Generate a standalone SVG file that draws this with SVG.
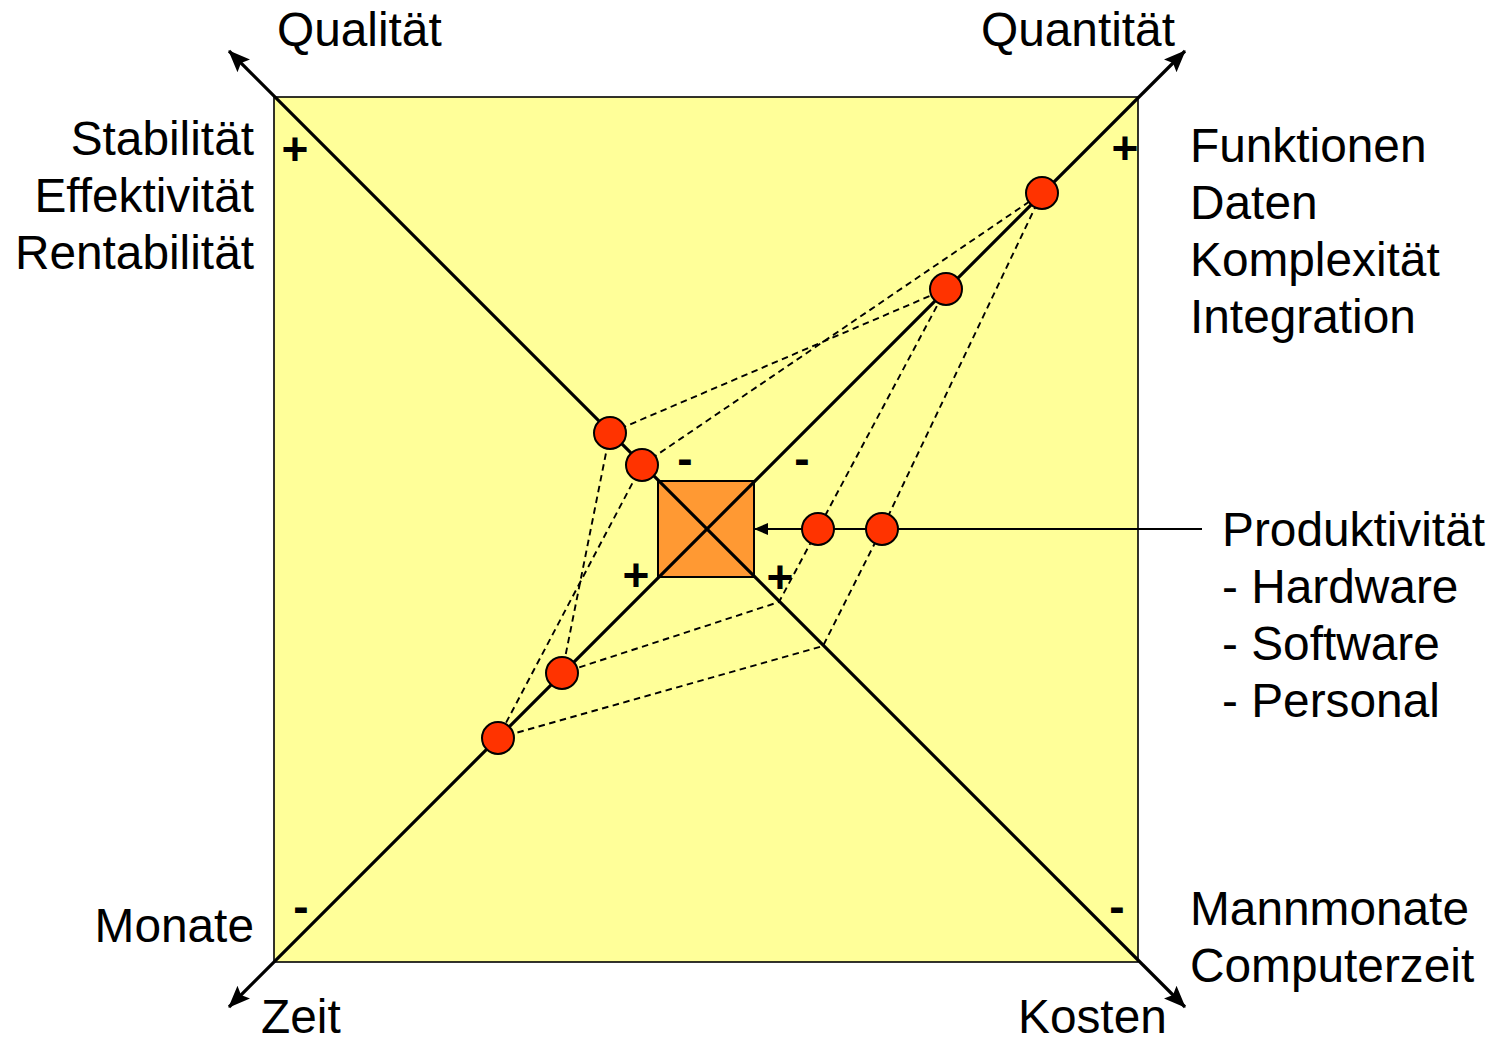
<svg xmlns="http://www.w3.org/2000/svg" width="1495" height="1043" viewBox="0 0 1495 1043">
<style>
text{font-family:"Liberation Sans",Arial,sans-serif;font-size:47.8px;fill:#000}
.r{text-anchor:end}
.s{font-weight:bold;font-size:46px;text-anchor:middle}
.axis{stroke:#000;stroke-width:3.2;fill:none}
.dash{stroke:#000;stroke-width:1.9;stroke-dasharray:6.5 4.5;fill:none}
.dot{fill:#FF3300;stroke:#000;stroke-width:2}
</style>
<defs>
<marker id="big" viewBox="0 0 22 18" refX="21" refY="9" markerWidth="22" markerHeight="18" markerUnits="userSpaceOnUse" orient="auto-start-reverse">
<path d="M0,0 L22,9 L0,18 L4,9 z" fill="#000"/>
</marker>
<marker id="small" viewBox="0 0 14 12" refX="13" refY="6" markerWidth="14" markerHeight="12" markerUnits="userSpaceOnUse" orient="auto">
<path d="M0,0 L14,6 L0,12 z" fill="#000"/>
</marker>
</defs>
<rect width="1495" height="1043" fill="#fff"/>
<g id="frame"><rect x="274" y="97" width="864" height="865" fill="#FFFF99" stroke="#000" stroke-width="1.6"/></g>
<g id="center"><rect x="658" y="481" width="96" height="96" fill="#FF9933" stroke="#000" stroke-width="2"/></g>
<g id="connectors">
<line class="axis" x1="229" y1="51" x2="1185" y2="1007" marker-start="url(#big)" marker-end="url(#big)"/>
<line class="axis" x1="229" y1="1007" x2="1185" y2="51" marker-start="url(#big)" marker-end="url(#big)"/>
<path class="dash" d="M642,465 L1042,193 L882,529 L823,646 L498,738 Z"/>
<path class="dash" d="M610,433 L946,289 L818,529 L779,602 L562,673 Z"/>
<line x1="1202" y1="529" x2="755" y2="529" stroke="#000" stroke-width="1.8" marker-end="url(#small)"/>
</g>
<g id="dots">
<circle class="dot" cx="610" cy="433" r="16"/>
<circle class="dot" cx="642" cy="465" r="16"/>
<circle class="dot" cx="1042" cy="193" r="16"/>
<circle class="dot" cx="946" cy="289" r="16"/>
<circle class="dot" cx="562" cy="673" r="16"/>
<circle class="dot" cx="498" cy="738" r="16"/>
<circle class="dot" cx="818" cy="529" r="16"/>
<circle class="dot" cx="882" cy="529" r="16"/>
</g>
<g id="signs">
<text class="s" x="295" y="165">+</text>
<text class="s" x="1125" y="164">+</text>
<text class="s" x="301" y="922">-</text>
<text class="s" x="1117" y="922">-</text>
<text class="s" x="685" y="474">-</text>
<text class="s" x="802" y="474">-</text>
<text class="s" x="636" y="591">+</text>
<text class="s" x="780" y="593">+</text>
</g>
<g id="label-qualitaet"><text x="277" y="46">Qualität</text></g>
<g id="label-quantitaet"><text x="981" y="46">Quantität</text></g>
<g id="label-zeit"><text x="261" y="1033">Zeit</text></g>
<g id="label-kosten"><text x="1018" y="1033">Kosten</text></g>
<g id="label-left-top">
<text class="r" x="254" y="155">Stabilität</text>
<text class="r" x="254" y="212">Effektivität</text>
<text class="r" x="254" y="269">Rentabilität</text>
</g>
<g id="label-right-top">
<text x="1190" y="162">Funktionen</text>
<text x="1190" y="219">Daten</text>
<text x="1190" y="276">Komplexität</text>
<text x="1190" y="333">Integration</text>
</g>
<g id="label-produktivitaet">
<text x="1222" y="546">Produktivität</text>
<text x="1222" y="603">- Hardware</text>
<text x="1222" y="660">- Software</text>
<text x="1222" y="717">- Personal</text>
</g>
<g id="label-monate"><text class="r" x="254" y="942">Monate</text></g>
<g id="label-right-bottom">
<text x="1190" y="925">Mannmonate</text>
<text x="1190" y="982">Computerzeit</text>
</g>
</svg>
